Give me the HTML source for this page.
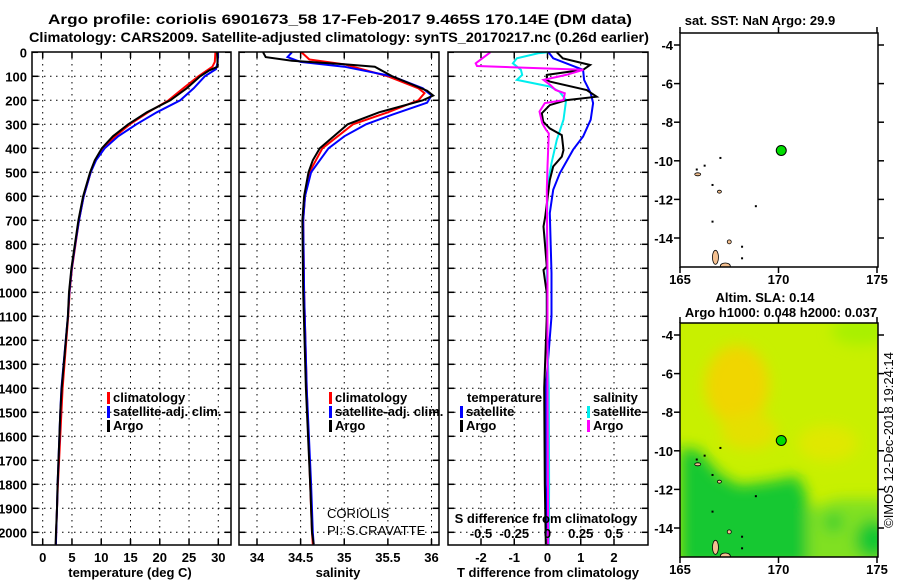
<!DOCTYPE html>
<html><head><meta charset="utf-8"><style>
html,body{margin:0;padding:0;background:#fff}
svg{display:block;font-family:"Liberation Sans",Arial,sans-serif}
.b{font-weight:bold;font-size:13px}
.n{font-weight:normal;font-size:13px}
.t{font-weight:bold;font-size:14px}
</style></head><body>
<svg id="chart" width="900" height="580" viewBox="0 0 900 580">
<rect x="0" y="0" width="900" height="580" fill="#fff"/>
<text class="t" x="340" y="24" text-anchor="middle" textLength="584" lengthAdjust="spacingAndGlyphs">Argo profile: coriolis 6901673_58 17-Feb-2017 9.465S 170.14E (DM data)</text>
<text class="t" x="339" y="42" text-anchor="middle" textLength="620" lengthAdjust="spacingAndGlyphs">Climatology: CARS2009. Satellite-adjusted climatology: synTS_20170217.nc (0.26d earlier)</text>
<g id="plots"></g>
</svg>
<script>
// ---------- data ----------
const depthTicks=[0,100,200,300,400,500,600,700,800,900,1000,1100,1200,1300,1400,1500,1600,1700,1800,1900,2000];
const tempTicks=[0,5,10,15,20,25,30];
const salTicks=[34,34.5,35,35.5,36];
const salTickLabels=["34","34.5","35","35.5","36"];
const tdiffTicks=[-2,-1,0,1,2];
const sdiffTicks=[-0.5,-0.25,0,0.25,0.5];
const sdiffTickLabels=["-0.5","-0.25","0","0.25","0.5"];

const argoTempDepth=[0,60,75,100,150,200,250,300,350,400,450,500,600,700,800,900,1000,1100,1400,1500,1700,1800,1900,2000,2050];
const argoTemp=[29.8,29.9,28.5,26.9,24.6,21.8,17.8,14.6,12.0,10.1,8.9,8.1,6.9,6.1,5.5,4.9,4.5,4.3,3.25,3.0,2.7,2.55,2.45,2.27,2.2];
const climTempDepth=[0,40,60,100,150,200,250,300,350,400,450,500,600,700,800,900,1000,1100,1400,1500,1700,1800,1900,2000,2050];
const climTemp=[29.5,29.4,29.0,26.6,24.0,21.5,18.0,14.9,12.4,10.4,9.0,8.2,7.0,6.2,5.6,5.0,4.6,4.35,3.4,3.2,2.8,2.6,2.45,2.3,2.25];
const satTempDepth=[0,40,70,100,150,200,250,300,350,400,450,500,600,700,800,900,1000,1100,1400,1500,1700,1800,1900,2000,2050];
const satTemp=[29.9,29.9,29.6,27.7,25.8,23.5,19.5,16.0,12.9,10.6,9.1,8.2,7.0,6.2,5.55,4.95,4.55,4.3,3.2,3.0,2.7,2.55,2.45,2.3,2.25];

const argoSalDepth=[0,20,35,50,60,80,100,130,160,180,200,250,300,350,400,450,500,600,700,1000,1400,1800,2000,2050];
const argoSal=[34.07,34.1,34.4,35.0,35.35,35.45,35.55,35.75,35.95,36.02,35.9,35.4,35.04,34.88,34.72,34.64,34.59,34.54,34.52,34.53,34.56,34.61,34.63,34.65];
const climSalDepth=[0,30,50,100,150,170,200,250,300,400,500,600,700,1000,1400,1800,2000,2050];
const climSal=[34.51,34.6,35.0,35.5,35.85,35.92,35.85,35.5,35.1,34.75,34.6,34.55,34.53,34.54,34.57,34.61,34.63,34.64];
const satSalDepth=[0,20,40,60,100,150,180,210,260,300,350,400,500,600,700,1000,1400,1800,2000,2050];
const satSal=[34.4,34.35,34.5,35.0,35.55,35.9,36.0,35.95,35.55,35.25,35.0,34.82,34.62,34.55,34.53,34.54,34.57,34.62,34.64,34.65];

const satTdiffDepth=[0,25,73,115,170,212,281,351,406,504,573,670,920,1100,1400,1800,2050];
const satTdiff=[0.03,0.17,1.07,1.1,1.3,1.37,1.3,1.07,0.77,0.37,0.17,0.07,0.12,0.12,-0.05,-0.05,0.02];
const argoTdiffDepth=[0,25,53,73,94,115,122,157,185,199,220,254,289,317,345,407,435,476,532,685,726,893,907,1004,1101,1400,1800,2050];
const argoTdiff=[0.28,0.46,1.28,1.07,-0.02,-0.02,0.07,1.18,1.48,0.58,0.07,-0.17,-0.13,0.07,0.43,0.48,0.43,0.17,0.07,-0.07,-0.12,-0.02,-0.12,-0.02,-0.02,-0.1,-0.08,-0.05];
const argoSdiffDepth=[0,46,57,73,94,115,136,157,171,199,212,247,296,324,338,476,573,920,1400,2050];
const argoSdiff=[-0.43,-0.54,-0.53,0.27,0.14,-0.03,0.02,0.06,0.13,0.12,-0.02,-0.06,-0.04,-0.01,0.01,0.0,-0.005,0.0,0.0,0.005];
const satSdiffDepth=[0,4,25,46,73,94,115,143,164,199,281,365,462,560,782,1100,1400,1800,2050];
const satSdiff=[0.0,-0.07,-0.23,-0.26,-0.2,-0.19,-0.23,0.02,0.09,0.14,0.12,0.07,0.03,0.0,-0.005,-0.005,0.01,0.012,0.01];

const latTicks=[-4,-6,-8,-10,-12,-14];
const lonTicks=[165,170,175];
const floatLon=170.14, floatLat=-9.465;

// ---------- helpers ----------
const NS="http://www.w3.org/2000/svg";
const root=document.getElementById('plots');
function mk(tag,attrs,parent){const e=document.createElementNS(NS,tag);for(const k in attrs)e.setAttribute(k,attrs[k]);(parent||root).appendChild(e);return e;}
function txt(s,x,y,cls,anchor,parent){const e=mk('text',{x:x,y:y,'class':cls||'b','text-anchor':anchor||'middle'},parent);e.textContent=s;return e;}
function lin(d0,d1,r0,r1){return v=>r0+(v-d0)*(r1-r0)/(d1-d0);}

const Y=lin(0,2000,52.3,532.3);
const PTOP=52, PBOT=545;

function panel(name){
  const g=mk('g',{});
  
  
  return g;
}
function frame(g,x0,x1,y0,y1){
  const r=mk('rect',{x:x0,y:y0,width:x1-x0,height:y1-y0,fill:'none',stroke:'#000','stroke-width':1.5},g);
  
  
}
function hgrid(g,x0,x1){
  depthTicks.forEach(d=>{
    const y=Y(d);
    if(d>0) mk('line',{x1:x0,x2:x1,y1:y,y2:y,stroke:'#000','stroke-width':1,'stroke-dasharray':'1.5,4.5'},g);
    mk('line',{x1:x0,x2:x0+6,y1:y,y2:y,stroke:'#000','stroke-width':1.5},g);
    mk('line',{x1:x1-6,x2:x1,y1:y,y2:y,stroke:'#000','stroke-width':1.5},g);
  });
}
function vgrid(g,vals,X){
  vals.forEach(v=>{
    const x=X(v);
    mk('line',{x1:x,x2:x,y1:PTOP,y2:PBOT,stroke:'#000','stroke-width':1,'stroke-dasharray':'1.5,4.5'},g);
    mk('line',{x1:x,x2:x,y1:PBOT-6,y2:PBOT,stroke:'#000','stroke-width':1.5},g);
    mk('line',{x1:x,x2:x,y1:PTOP,y2:PTOP+6,stroke:'#000','stroke-width':1.5},g);
  });
}
function line(g,X,vals,depths,color,name){
  const pts=vals.map((v,i)=>X(v).toFixed(1)+','+Y(depths[i]).toFixed(1)).join(' ');
  const p=mk('polyline',{points:pts,fill:'none',stroke:color,'stroke-width':2,'stroke-linejoin':'miter'},g);
  
  
}
function legendEntry(g,x,y,color,label,name){
  const e=mk('g',{},g);
  
  
  mk('rect',{x:x,y:y-10,width:3,height:12,fill:color},e);
  txt(label,x+6,y,'b','start',e);
}

// ---------- depth labels ----------
const ylab=mk('g',{});


depthTicks.forEach(d=>txt(String(d),27,Y(d)+5,'b','end',ylab));

// ---------- temperature panel ----------
const XT=lin(0,30,42.7,218.3);
const g1=panel('temperature-panel');
hgrid(g1,32,231); vgrid(g1,tempTicks,XT);
line(g1,XT,climTemp,climTempDepth,'#ff0000','temp-climatology-line');
line(g1,XT,satTemp,satTempDepth,'#0000ff','temp-satellite-line');
line(g1,XT,argoTemp,argoTempDepth,'#000000','temp-argo-line');
frame(g1,32,231,PTOP,PBOT);
tempTicks.forEach(v=>txt(String(v),XT(v),562,'b','middle',g1));
txt('temperature (deg C)',130,577,'b','middle',g1);
legendEntry(g1,107,402,'#ff0000','climatology','legend-climatology');
legendEntry(g1,107,416,'#0000ff','satellite-adj. clim.','legend-satellite-adj');
legendEntry(g1,107,430,'#000000','Argo','legend-argo');

// ---------- salinity panel ----------
const XS=lin(34,36,257,431.5);
const g2=panel('salinity-panel');
hgrid(g2,239,439); vgrid(g2,salTicks,XS);
line(g2,XS,climSal,climSalDepth,'#ff0000','sal-climatology-line');
line(g2,XS,satSal,satSalDepth,'#0000ff','sal-satellite-line');
line(g2,XS,argoSal,argoSalDepth,'#000000','sal-argo-line');
frame(g2,239,439,PTOP,PBOT);
salTicks.forEach((v,i)=>txt(salTickLabels[i],XS(v),562,'b','middle',g2));
txt('salinity',338,577,'b','middle',g2);
legendEntry(g2,329,402,'#ff0000','climatology','legend-climatology-2');
legendEntry(g2,329,416,'#0000ff','satellite-adj. clim.','legend-satellite-adj-2');
legendEntry(g2,329,430,'#000000','Argo','legend-argo-2');
const cor=txt('CORIOLIS',327,518,'n','start',g2);

const pi=txt('PI: S.CRAVATTE',327,535,'n','start',g2);


// ---------- difference panel ----------
const XD=lin(-2,2,481,614);
const XSD=lin(-0.5,0.5,481,614);
const g3=panel('difference-panel');
hgrid(g3,448,648); vgrid(g3,tdiffTicks,XD);
line(g3,XD,satTdiff,satTdiffDepth,'#0000ff','tdiff-satellite-line');
line(g3,XSD,satSdiff,satSdiffDepth,'#00eeee','sdiff-satellite-line');
line(g3,XD,argoTdiff,argoTdiffDepth,'#000000','tdiff-argo-line');
line(g3,XSD,argoSdiff,argoSdiffDepth,'#ff00ff','sdiff-argo-line');
frame(g3,448,648,PTOP,PBOT);
tdiffTicks.forEach(v=>txt(String(v),XD(v),562,'b','middle',g3));
txt('T difference from climatology',548,577,'b','middle',g3);
txt('S difference from climatology',546,523,'b','middle',g3);
sdiffTicks.forEach((v,i)=>txt(sdiffTickLabels[i],XSD(v),538,'b','middle',g3));
txt('temperature',467,402,'b','start',g3);
legendEntry(g3,460,416,'#0000ff','satellite','legend-tdiff-satellite');
legendEntry(g3,460,430,'#000000','Argo','legend-tdiff-argo');
txt('salinity',593,402,'b','start',g3);
legendEntry(g3,587,416,'#00eeee','satellite','legend-sdiff-satellite');
legendEntry(g3,587,430,'#ff00ff','Argo','legend-sdiff-argo');

// ---------- maps ----------
const LX=lin(165,175,680,877);
function drawMap(name,y0,colored){
  const y1=y0+234;
  const LY=lin(-4,-14,y0+12,y0+205);
  const g=panel(name);
  const cid='clip'+y0;
  const cp=mk('clipPath',{id:cid},g); mk('rect',{x:680,y:y0,width:198,height:234},cp);
  const inner=mk('g',{'clip-path':'url(#'+cid+')'},g);
  if(colored){
    const f=mk('filter',{id:'bl'+y0,x:'-20%',y:'-20%',width:'140%',height:'140%'},g);
    mk('feGaussianBlur',{stdDeviation:7},f);
    mk('rect',{x:680,y:y0,width:198,height:234,fill:'#c8f000'},inner);
    const bg=mk('g',{filter:'url(#bl'+y0+')'},inner);
    mk('ellipse',{cx:LX(167.9),cy:LY(-6.6),rx:32,ry:40,fill:'#f0d600'},bg);
    mk('ellipse',{cx:LX(168.5),cy:LY(-9),rx:28,ry:18,fill:'#e4e000'},bg);
    mk('ellipse',{cx:LX(174.2),cy:LY(-3.8),rx:30,ry:14,fill:'#a8f000'},bg);
    mk('ellipse',{cx:LX(172.5),cy:LY(-9.6),rx:30,ry:18,fill:'#e0e800'},bg);
    mk('polygon',{points:[[165,-9.8],[166,-10],[167,-11.2],[168,-11.8],[169.5,-11.6],[171,-11.3],[171.5,-12.5],[171.5,-16],[165,-16]].map(p=>LX(p[0])+','+LY(p[1])).join(' '),fill:'#18c830'},bg);
    mk('polygon',{points:[[171.5,-13],[173,-12.5],[175.5,-12.5],[175.5,-16],[171.5,-16]].map(p=>LX(p[0])+','+LY(p[1])).join(' '),fill:'#80e020'},bg);
    mk('ellipse',{cx:LX(174.8),cy:LY(-14.6),rx:18,ry:20,fill:'#18c830'},bg);
    mk('ellipse',{cx:LX(172.8),cy:LY(-13.7),rx:10,ry:10,fill:'#40d030'},bg);
  }
  const isl=[[166.8,-15.0,3,7],[167.3,-15.45,5,3],[167.5,-14.2,2,2],[165.9,-10.7,3,1.5],[167,-11.6,2,1.5]];
  isl.forEach(s=>mk('ellipse',{cx:LX(s[0]),cy:LY(s[1]),rx:s[2],ry:s[3],fill:'#f4c090',stroke:'#000','stroke-width':0.8},inner));
  [[167,-9.8],[166.2,-10.2],[165.8,-10.4],[166.6,-11.2],[168.8,-12.3],[166.6,-13.1],[168.1,-14.4],[168.1,-15]].forEach(s=>mk('rect',{x:LX(s[0]),y:LY(s[1]),width:2,height:2,fill:'#000'},inner));
  const dot=mk('circle',{cx:LX(floatLon),cy:LY(floatLat),r:5,fill:'#00dd00',stroke:'#000','stroke-width':1},g);
  
  
  frame(g,680,878,y0,y1);
  latTicks.forEach(v=>{const y=LY(v);
    mk('line',{x1:674,x2:680,y1:y,y2:y,stroke:'#000','stroke-width':1.5},g);
    mk('line',{x1:878,x2:884,y1:y,y2:y,stroke:'#000','stroke-width':1.5},g);
    txt(String(v),673,y+5,'b','end',g);});
  lonTicks.forEach(v=>{const x=LX(v);
    mk('line',{x1:x,x2:x,y1:y0-6,y2:y0,stroke:'#000','stroke-width':1.5},g);
    mk('line',{x1:x,x2:x,y1:y1,y2:y1+6,stroke:'#000','stroke-width':1.5},g);
    txt(String(v),x,y1+17,'b','middle',g);});
  return g;
}
const m1=drawMap('sst-map',33,false);
txt('sat. SST: NaN Argo: 29.9',760,25,'b','middle',m1);
const m2=drawMap('sla-map',323,true);
txt('Altim. SLA: 0.14',765,302,'b','middle',m2);
txt('Argo h1000: 0.048 h2000: 0.037',781,317,'b','middle',m2);
const cr=txt('©IMOS 12-Dec-2018 19:24:14',0,0,'n','middle',m2);
cr.setAttribute('transform','translate(893,440) rotate(-90)');

</script>
</body></html>
